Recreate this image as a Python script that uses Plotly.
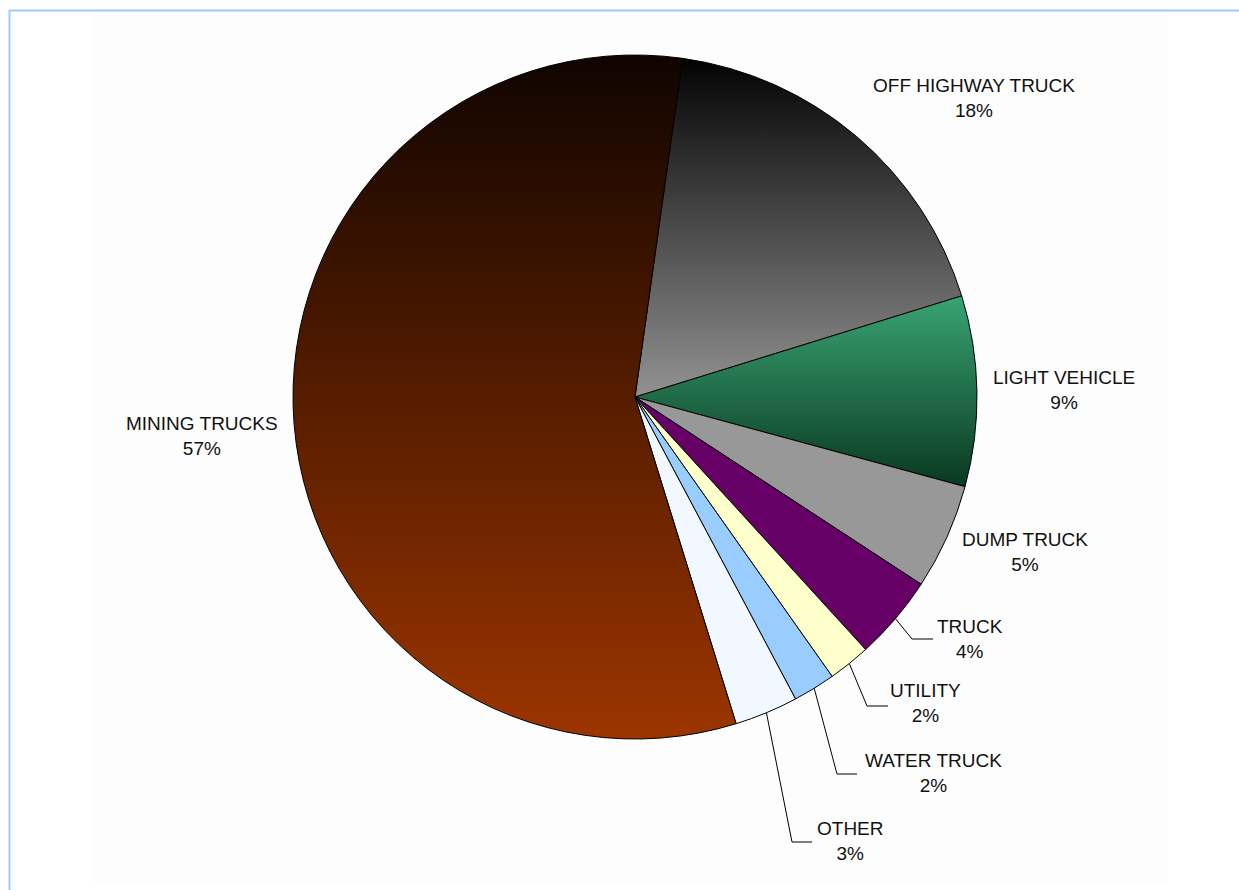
import json
import math
import plotly.graph_objects as go

W, H = 1239, 890

# Fleet share by equipment class, clockwise from the top of the pie
categories = ["OFF HIGHWAY TRUCK", "LIGHT VEHICLE", "DUMP TRUCK", "TRUCK",
              "UTILITY", "WATER TRUCK", "OTHER", "MINING TRUCKS"]
shares = [18, 9, 5, 4, 2, 2, 3, 57]

# base fill per slice, plus an optional gradient (start colour, end colour, end x, end y)
slice_colors = ["#474747", "#207049", "#989898", "#660066",
                "#ffffcc", "#99ccff", "#f1f8ff", "#561c00"]
slice_gradients = [("#030303", "#929292", 0, 1), ("#38a472", "#0a3820", 0, 1),
                   None, None, None, None, None,
                   ("#100400", "#9c3500", 0, 1)]

# pie geometry in pixels
CX, CY, R = 635, 397, 342
ROTATION = 8

# pixel centre of each two-line label
label_pos = {
    "OFF HIGHWAY TRUCK": (974, 98),
    "LIGHT VEHICLE": (1064, 390),
    "DUMP TRUCK": (1025, 552),
    "TRUCK": (970, 639),
    "UTILITY": (925, 703),
    "WATER TRUCK": (933, 773),
    "OTHER": (850, 841),
    "MINING TRUCKS": (202, 436),
}
# elbow leader lines for the thin slices: knee point, end point
leaders = {
    "TRUCK": ((912, 639), (933, 639)),
    "UTILITY": ((867, 706), (888, 706)),
    "WATER TRUCK": ((837, 774), (857, 774)),
    "OTHER": ((792, 842), (812, 842)),
}


def px(x):
    return x / W


def py(y):
    return 1 - y / H


fig = go.Figure(go.Pie(
    labels=categories,
    values=shares,
    sort=False,
    direction="clockwise",
    rotation=ROTATION,
    textinfo="none",
    hoverinfo="skip",
    showlegend=False,
    marker=dict(colors=slice_colors, line=dict(color="#000000", width=1)),
    domain=dict(x=[px(CX - R), px(CX + R)], y=[py(CY + R), py(CY - R)]),
))

shapes = [
    # faint panel behind the chart
    dict(type="rect", xref="paper", yref="paper", layer="below",
         x0=px(92), x1=px(1167), y0=py(883), y1=py(15),
         fillcolor="#fdfdfd", line=dict(width=0)),
    # frame on the top and left edges
    dict(type="line", xref="paper", yref="paper",
         x0=px(9), x1=1, y0=py(10.5), y1=py(10.5),
         line=dict(color="#99ccff", width=2)),
    dict(type="line", xref="paper", yref="paper",
         x0=px(9.5), x1=px(9.5), y0=py(10), y1=0,
         line=dict(color="#99ccff", width=2)),
]

total = sum(shares)
start = ROTATION
mid_angle = {}
for name, v in zip(categories, shares):
    span = 360 * v / total
    mid_angle[name] = start + span / 2
    start += span

for name, (knee, end) in leaders.items():
    a = math.radians(mid_angle[name])
    sx = CX + R * math.sin(a)
    sy = CY - R * math.cos(a)
    path = "M {} {} L {} {} L {} {}".format(
        px(sx), py(sy), px(knee[0]), py(knee[1]), px(end[0]), py(end[1]))
    shapes.append(dict(type="path", xref="paper", yref="paper", path=path,
                       line=dict(color="#000000", width=1)))

annotations = []
for name, v in zip(categories, shares):
    lx, ly = label_pos[name]
    annotations.append(dict(
        x=px(lx), y=py(ly), xref="paper", yref="paper",
        text=f"{name}<br>{v}%", showarrow=False,
        xanchor="center", yanchor="middle", align="center",
        font=dict(family="Liberation Sans, Arial, sans-serif", size=19, color="#111111"),
    ))

fig.update_layout(
    width=W, height=H,
    margin=dict(l=0, r=0, t=0, b=0),
    paper_bgcolor="#ffffff",
    plot_bgcolor="#ffffff",
    shapes=shapes,
    annotations=annotations,
)

# swap the flat slice fills for linear gradients inside each slice's box
grad_spec = {str(i): g for i, g in enumerate(slice_gradients) if g}
post_script = """
(function() {
  var gd = document.getElementById('{plot_id}');
  var spec = %s;
  function apply() {
    var svg = gd.querySelector('svg.main-svg');
    if (!svg) return;
    var defs = svg.querySelector('defs');
    var ns = 'http://www.w3.org/2000/svg';
    Object.keys(spec).forEach(function(k) {
      var id = 'slicegrad' + k;
      if (!svg.querySelector('#' + id)) {
        var g = document.createElementNS(ns, 'linearGradient');
        g.setAttribute('id', id);
        g.setAttribute('x1', '0'); g.setAttribute('y1', '0');
        g.setAttribute('x2', String(spec[k][2])); g.setAttribute('y2', String(spec[k][3]));
        [[0, spec[k][0]], [1, spec[k][1]]].forEach(function(s) {
          var st = document.createElementNS(ns, 'stop');
          st.setAttribute('offset', s[0]);
          st.setAttribute('stop-color', s[1]);
          g.appendChild(st);
        });
        defs.appendChild(g);
      }
    });
    var slices = gd.querySelectorAll('g.slice');
    slices.forEach(function(s, i) {
      if (spec[String(i)]) {
        var p = s.querySelector('path.surface');
        if (p) p.style.fill = 'url(#slicegrad' + i + ')';
      }
    });
  }
  apply();
  gd.on('plotly_afterplot', apply);
})();
""".replace("%s", json.dumps(grad_spec))

fig.write_html("out.html", post_script=post_script)
